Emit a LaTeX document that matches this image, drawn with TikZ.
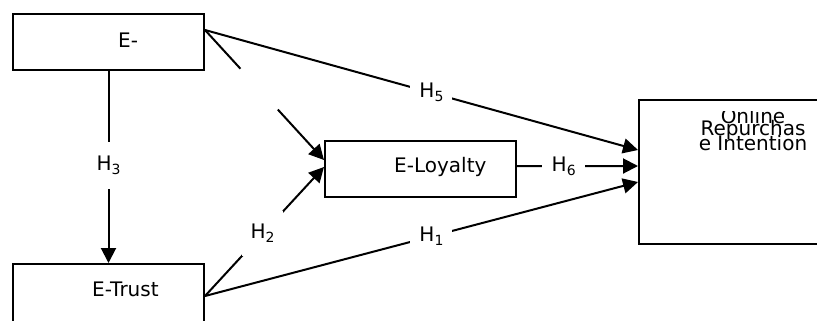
\documentclass[tikz,border=0pt]{standalone}
\usepackage{fontspec}
\setmainfont{DejaVu Sans}
\usetikzlibrary{arrows.meta}
\newcommand{\hsb}[1]{H\raisebox{-4bp}{\fontsize{14bp}{14bp}\selectfont #1}}
\tikzset{
  box/.style={draw=black, line width=2bp, minimum width=191bp, inner sep=0pt},
  txt/.style={font=\fontsize{20bp}{20bp}\selectfont, inner sep=0pt},
  conn/.style={line width=2bp},
  arr/.style={conn, -{Triangle[length=15bp,width=15bp]}},
  hlab/.style={fill=white, inner sep=0pt, font=\fontsize{20bp}{20bp}\selectfont},
}
\begin{document}
\begin{tikzpicture}[x=1bp,y=-1bp]
\useasboundingbox (0,0) rectangle (817,320);
\clip (0,0) rectangle (817,320);
% boxes
\node[box, minimum height=56bp] (es) at (108.5,42) {};
\node[box, minimum height=62bp] (et) at (108.5,295) {};
\node[box, minimum height=56bp] (el) at (420.5,169) {};
\node[box, minimum height=144bp] (or) at (734.5,172) {};
% texts
\node[txt, anchor=base west] (est) at (118,47.3) {E-};
\node[txt, anchor=base west] (ett) at (92,296.7) {E-Trust};
\node[txt, anchor=base west] (elt) at (394,172.7) {E-Loyalty};
\begin{scope}
\clip (640,111) rectangle (817,243);
\node[txt, anchor=base] (or1) at (753,123) {Online};
\end{scope}
\node[txt, anchor=base] (or2) at (753,135.5) {Repurchas};
\node[txt, anchor=base] (or3) at (753,150) {e Intention};
% connectors
\draw[arr] ([yshift=12bp]es.east) -- node[hlab, pos=0.523, minimum width=42bp, minimum height=22bp] (h5) {\hsb{5}} ([yshift=22bp]or.west);
\draw[arr] ([yshift=-1bp]et.east) -- node[hlab, pos=0.523, minimum width=42bp, minimum height=22bp] (h1) {\hsb{1}} ([yshift=-10bp]or.west);
\draw[arr] ([yshift=3bp]el.east) -- node[hlab, pos=0.386, minimum width=43bp, minimum height=22bp] (h6) {\hsb{6}} ([yshift=6bp]or.west);
\draw[arr] (es.south) -- node[hlab, pos=0.492, minimum width=30bp, minimum height=47bp] (h3) {\hsb{3}} (et.north);
\draw[arr] ([yshift=-1bp]et.east) -- node[hlab, pos=0.483, minimum width=41bp, minimum height=45bp] (h2) {\hsb{2}} ([yshift=2bp]el.west);
\path ([yshift=12bp]es.east) -- coordinate[pos=0.298] (g1) coordinate[pos=0.612] (g2) ([yshift=9bp]el.west);
\draw[conn] ([yshift=12bp]es.east) -- (g1);
\draw[arr] (g2) -- ([yshift=9bp]el.west);
\end{tikzpicture}
\end{document}
